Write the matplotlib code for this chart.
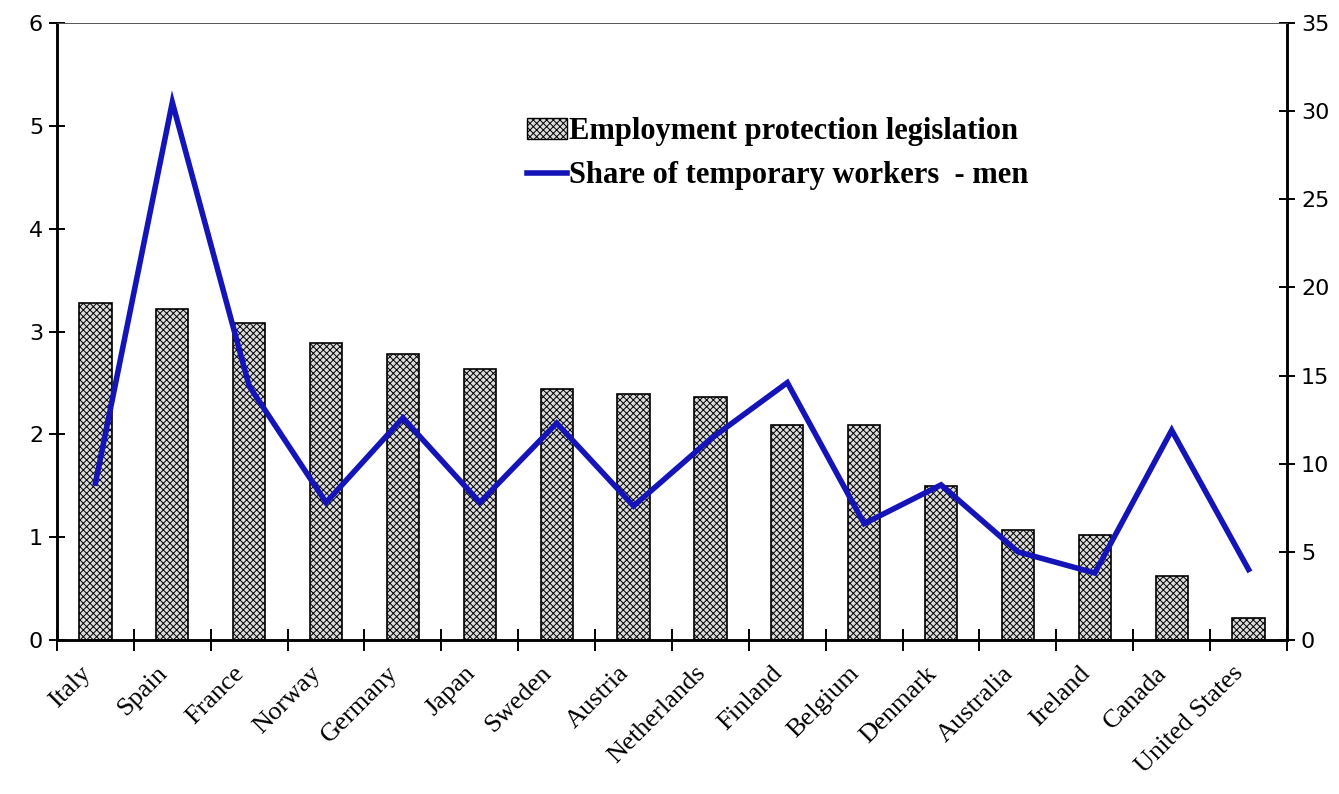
import numpy as np
import matplotlib
matplotlib.use('Agg')
import matplotlib.pyplot as plt
import matplotlib.transforms as mtransforms
from matplotlib.patches import Patch
from matplotlib.lines import Line2D

# Datos
countries = ['Italy', 'Spain', 'France', 'Norway', 'Germany', 'Japan', 'Sweden',
             'Austria', 'Netherlands', 'Finland', 'Belgium', 'Denmark',
             'Australia', 'Ireland', 'Canada', 'United States']
epl = [3.28, 3.22, 3.08, 2.89, 2.78, 2.64, 2.44, 2.39, 2.36, 2.09, 2.09,
       1.50, 1.07, 1.02, 0.62, 0.21]
temp_men = [8.9, 30.5, 14.4, 7.8, 12.6, 7.8, 12.3, 7.6, 11.4, 14.6, 6.6,
            8.8, 5.0, 3.8, 11.9, 4.0]

plt.rcParams['hatch.color'] = '#6e6e6e'
plt.rcParams['hatch.linewidth'] = 0.7

fig = plt.figure(figsize=(13.39, 7.94), dpi=100)
ax = fig.add_axes([57 / 1339, 1 - 640 / 794, (1287 - 57) / 1339, (640 - 23) / 794])
ax2 = ax.twinx()

n = len(countries)
x = np.arange(n) + 0.5

ax.bar(x, epl, width=0.42, facecolor='#dcdcdc', edgecolor='black',
       linewidth=1.2, hatch='xxxxx', zorder=2)
ax2.plot(x, temp_men, color='#1414b8', linewidth=4, solid_joinstyle='miter', zorder=3)

ax.set_xlim(0, n)
ax.set_ylim(0, 6)
ax2.set_ylim(0, 35)

# Ejes y marcas
for a in (ax, ax2):
    a.spines['top'].set_linewidth(0.6)
    a.spines['top'].set_color('#555555')
    a.spines['left'].set_linewidth(1.8)
    a.spines['right'].set_linewidth(1.8)
    a.spines['bottom'].set_linewidth(1.8)

ax.set_yticks(range(0, 7))
ax2.set_yticks(range(0, 36, 5))
ax.tick_params(axis='y', direction='inout', length=12, width=1.4, pad=4,
               labelsize=16)
ax2.tick_params(axis='y', direction='inout', length=12, width=1.4, pad=4,
                labelsize=16)
for lab in ax.get_yticklabels() + ax2.get_yticklabels():
    lab.set_fontfamily('DejaVu Sans')

ax.set_xticks(np.arange(n + 1))
ax.set_xticklabels([])
ax.tick_params(axis='x', which='major', direction='inout', length=16, width=1.4)
ax.set_xticks(x, minor=True)
ax.set_xticklabels(countries, minor=True, rotation=45, ha='right', va='top',
                   rotation_mode='anchor', fontfamily='Liberation Serif',
                   fontsize=19)
ax.tick_params(axis='x', which='minor', length=0, pad=16)
offset = mtransforms.ScaledTranslation(-16 / 100, 0, fig.dpi_scale_trans)
for lab in ax.get_xticklabels(minor=True):
    lab.set_transform(lab.get_transform() + offset)

# Leyenda
handles = [Patch(facecolor='#dcdcdc', edgecolor='black', hatch='xxxxx', linewidth=1.0),
           Line2D([0], [0], color='#1414b8', linewidth=4)]
labels = ['Employment protection legislation', 'Share of temporary workers  - men']
leg = ax.legend(handles, labels, loc='upper left', bbox_to_anchor=(0.36, 0.892),
                frameon=False, handlelength=1.3, handletextpad=0.05,
                labelspacing=0.5, prop={'family': 'Liberation Serif',
                                        'weight': 'bold', 'size': 22})

fig.savefig('out.png', dpi=100, facecolor='white')
